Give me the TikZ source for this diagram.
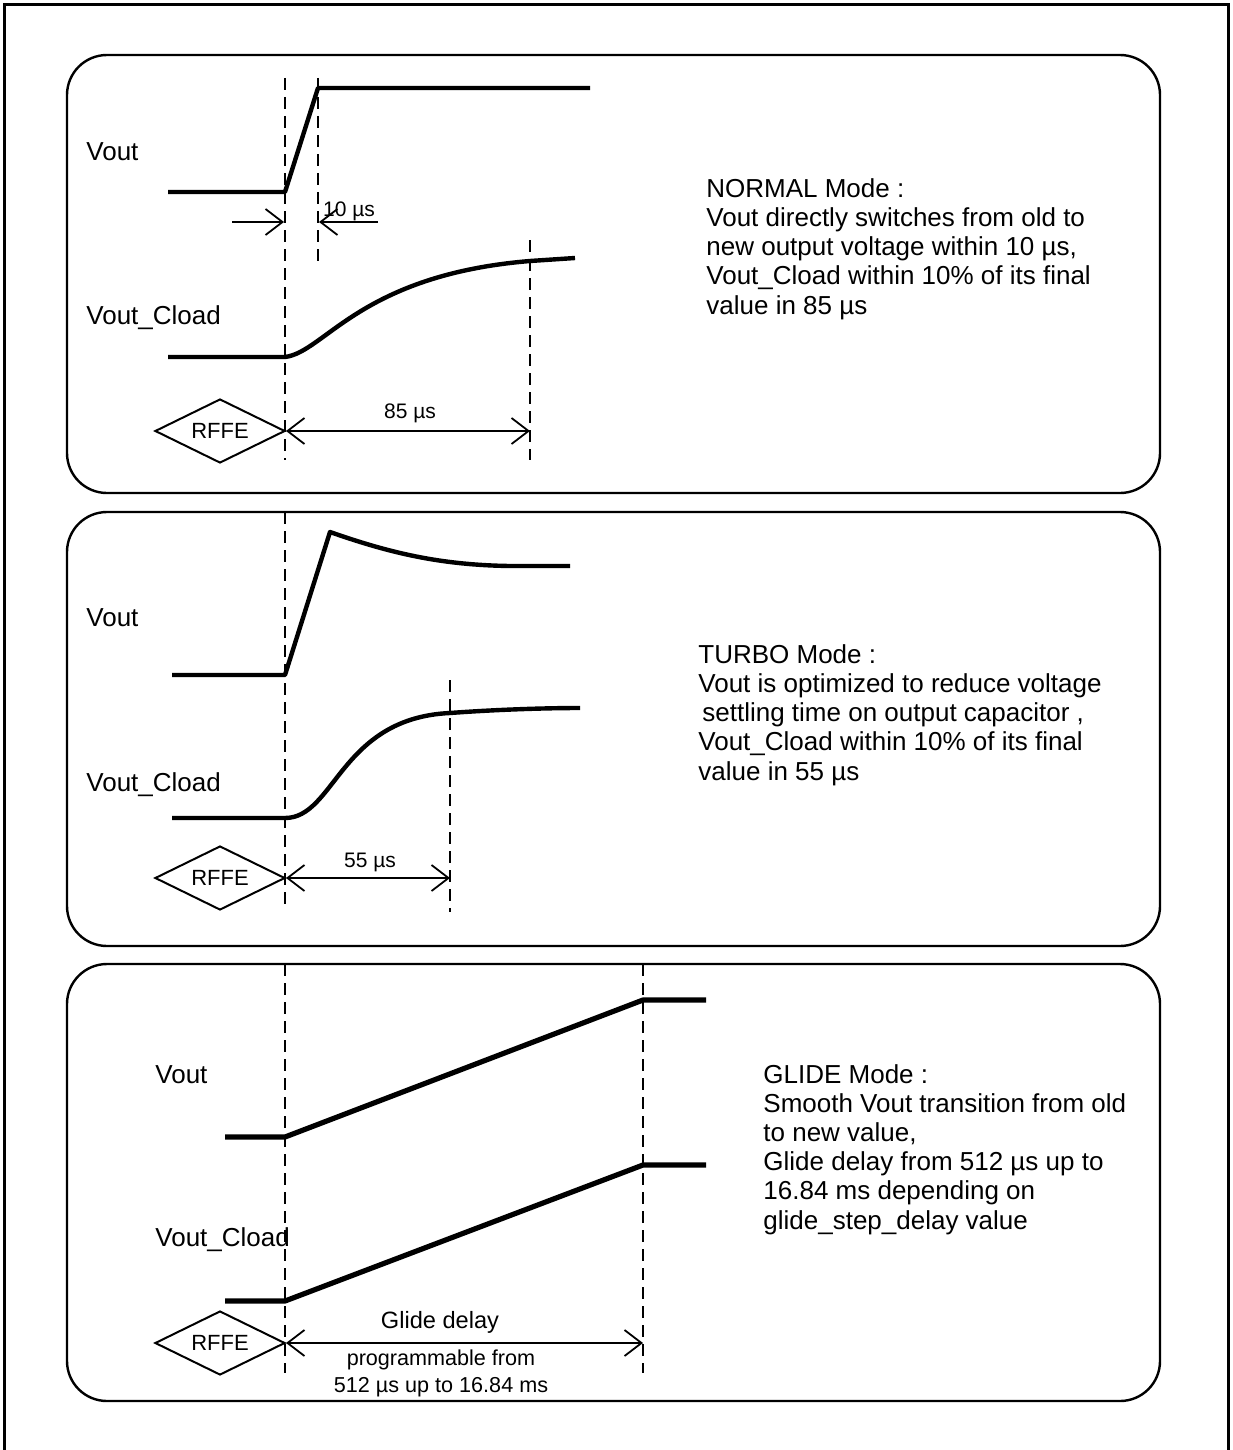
\documentclass[tikz,border=0pt]{standalone}
\usepackage{fontspec}
\setmainfont{Liberation Sans}
\usepackage{tikz}
\usetikzlibrary{shapes.geometric, arrows.meta, positioning}

\tikzset{
  panel/.style={draw, line width=1.2pt, rounded corners=20pt},
  wave/.style={line width=2.2pt, line join=round},
  guide/.style={line width=1.3pt, dash pattern=on 6pt off 3.5pt},
  barb/.style={line width=0.9pt, -{Straight Barb[length=8.5pt,width=13pt]}},
  dimline/.style={line width=0.9pt, {Straight Barb[length=8.5pt,width=13pt]}-{Straight Barb[length=8.5pt,width=13pt]}},
  rffe/.style={draw, diamond, aspect=2, line width=1pt, inner sep=0pt, minimum width=65pt, minimum height=32pt, font=\fontsize{11}{13}\selectfont},
  lbl/.style={anchor=west, inner sep=0pt, font=\fontsize{13}{15}\selectfont},
  small/.style={inner sep=0pt, font=\fontsize{10.5}{13.5}\selectfont, align=center},
  desc/.style={anchor=base west, inner sep=0pt, align=left, font=\fontsize{13}{14.6}\selectfont}
}

\begin{document}
\begin{tikzpicture}[x=0.5pt, y=-0.5pt]
  \useasboundingbox (0,0) rectangle (1232,1450);
  \draw[line width=1.5pt] (4,1450) -- (4,5) -- (1228,5) -- (1228,1450);

  % NORMAL mode
  \draw[panel] (67,55) rectangle (1160,493);
  \node[lbl] (vout1) at (86,152) {Vout};
  \node[lbl] (cload1) at (86,318) {Vout\_Cload};
  \draw[guide] (285,78) -- (285,460);
  \draw[guide] (318,78) -- (318,265);
  \draw[guide] (530,240) -- (530,460);
  \draw[wave] (168,192) -- (285,192) -- (318,88) -- (590,88);
  \draw[wave] (168,357) -- (285,357) .. controls (325,352) and (360,275) .. (530,261) -- (575,258);
  \draw[barb] (232,222) -- (284,222);
  \draw[barb] (378,222) -- (319,222);
  \node[small] (t10) at (349,211) {10 µs};
  \node[rffe] (rffe1) at (220,431) {RFFE};
  \coordinate (end1) at (530,431);
  \draw[dimline] (rffe1.east) -- (end1);
  \node[small] (t85) at (410,413) {85 µs};
  % anchored at the baseline of the last line
  \node[desc] (normal) at (706,314) {NORMAL Mode :\\Vout directly switches from old to\\new output voltage within 10 µs,\\Vout\_Cload within 10\% of its final\\value in 85 µs};

  % TURBO mode
  \draw[panel] (67,512) rectangle (1160,946);
  \node[lbl] (vout2) at (86,618) {Vout};
  \node[lbl] (cload2) at (86,785) {Vout\_Cload};
  \draw[guide] (285,512) -- (285,905);
  \draw[guide] (450,680) -- (450,912);
  \draw[wave] (172,675) -- (285,675) -- (330,532) .. controls (390,553) and (440,565) .. (510,566) -- (570,566);
  \draw[wave] (172,818) -- (285,818) .. controls (335,818) and (340,718) .. (450,713) .. controls (490,710) and (540,708) .. (580,708);
  \node[rffe] (rffe2) at (220,878) {RFFE};
  \coordinate (end2) at (450,878);
  \draw[dimline] (rffe2.east) -- (end2);
  \node[small] (t55) at (370,862) {55 µs};
  \node[desc] (turbo) at (698,780) {TURBO Mode :\\Vout is optimized to reduce voltage\\\hspace{2pt}settling time on output capacitor ,\\Vout\_Cload within 10\% of its final\\value in 55 µs};

  % GLIDE mode
  \draw[panel] (67,964) rectangle (1160,1401);
  \node[lbl] (vout3) at (155,1075) {Vout};
  \node[lbl] (cload3) at (155,1240) {Vout\_Cload};
  \draw[guide] (285,964) -- (285,1373);
  \draw[guide] (643,964) -- (643,1373);
  \draw[wave, line width=2.6pt] (225,1137) -- (285,1137) -- (643,1000) -- (706,1000);
  \draw[wave, line width=2.6pt] (225,1301) -- (285,1301) -- (643,1165) -- (706,1165);
  \node[rffe] (rffe3) at (220,1343) {RFFE};
  \coordinate (end3) at (643,1343);
  \draw[dimline] (rffe3.east) -- (end3);
  \node[small, font=\fontsize{11.8}{14}\selectfont] (glide) at (440,1322) {Glide delay};
  \node[small, font=\fontsize{10.8}{13.5}\selectfont] (prog) at (441,1373) {programmable from\\512 µs up to 16.84 ms};
  \node[desc] (glidetxt) at (763,1229) {GLIDE Mode :\\Smooth Vout transition from old\\to new value,\\Glide delay from 512 µs up to\\16.84 ms depending on\\glide\_step\_delay value};
\end{tikzpicture}
\end{document}
